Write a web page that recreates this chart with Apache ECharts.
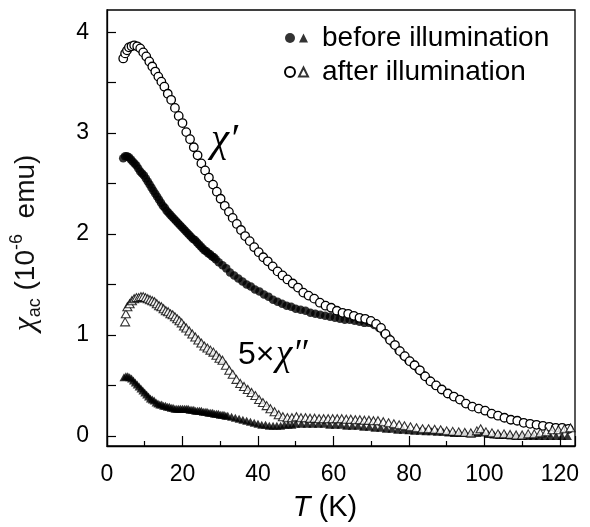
<!DOCTYPE html>
<html>
<head>
<meta charset="utf-8">
<script src="https://cdn.jsdelivr.net/npm/echarts@6/dist/echarts.min.js"></script>
<style>html,body{margin:0;padding:0;background:#fff}#c{width:590px;height:527px}</style>
</head>
<body>
<div id="c"></div>
<script>
// chi' after illumination (open circles)
const tAfter1 = [4.3,4.8,5.3,5.8,6.5,7.2,8.0,8.8,9.6,10.4,11.2,12.0,12.8,13.6,14.4,15.2,16.1,17.0,18.0,19.0,20.0,21.0,22.0,23.0,24.0,25.0,26.0,27.0,28.1,29.1,30.1,31.2,32.3,33.3,34.4,35.5,36.6,37.8,39.0,40.2,41.4,42.6,43.9,45.2,46.5,47.8,49.2,50.6,52.0,53.4,54.9,56.4,57.9,59.4,60.9,62.4,63.9,65.4,66.9,68.4,69.9,71.3,72.6,73.8,75.0,76.3,77.6,78.9,80.2,81.5,82.9,84.3,85.7,87.2,88.7,90.3,91.9,93.5,95.1,96.8,98.5,100.2,101.9,103.6,105.3,107.0,108.7,110.4,112.1,113.8,115.5,117.2,118.9,120.6,122.3];
const vAfter1 = [3.74,3.79,3.82,3.85,3.86,3.87,3.86,3.84,3.80,3.76,3.71,3.66,3.61,3.56,3.51,3.46,3.39,3.33,3.25,3.17,3.10,3.01,2.94,2.86,2.78,2.70,2.63,2.56,2.49,2.42,2.35,2.28,2.22,2.16,2.10,2.04,1.98,1.93,1.87,1.82,1.77,1.73,1.68,1.63,1.59,1.55,1.51,1.47,1.42,1.39,1.36,1.32,1.29,1.27,1.24,1.22,1.21,1.19,1.17,1.16,1.14,1.11,1.07,1.01,0.95,0.90,0.84,0.79,0.74,0.70,0.65,0.59,0.54,0.50,0.46,0.42,0.39,0.36,0.32,0.29,0.27,0.25,0.22,0.20,0.18,0.16,0.15,0.13,0.12,0.11,0.10,0.09,0.08,0.08,0.07];

// chi' before illumination (filled circles)
const tBefore1 = [4.3,4.8,5.3,5.8,6.3,6.8,7.3,7.8,8.3,8.8,9.3,9.8,10.3,10.8,11.3,11.8,12.3,12.8,13.3,13.8,14.3,14.8,15.3,15.8,16.3,16.8,17.3,17.8,18.3,18.8,19.3,19.8,20.3,20.8,21.3,21.8,22.3,22.8,23.3,23.8,24.3,24.8,25.3,25.8,26.3,26.8,27.3,27.8,28.3,28.8,29.6,30.6,31.6,32.6,33.7,34.8,35.9,37.0,38.1,39.2,40.4,41.6,42.8,44.0,45.2,46.4,47.6,48.8,50.0,51.3,52.6,53.9,55.2,56.5,57.8,59.1,60.4,61.7,63.0,64.3,65.6,66.9,68.2,69.5,70.8,72.1,73.4,74.6,75.9,77.2,78.5,79.8,81.1,82.5,84.0,85.5,87.0,88.6,90.2,91.8,93.4,95.0,96.7,98.4,100.1,101.8,103.5,105.2,106.9,108.6,110.3,112.0,113.7,115.4,117.1,118.8,120.5,122.2];
const vBefore1 = [2.75,2.77,2.77,2.76,2.74,2.72,2.70,2.68,2.65,2.62,2.60,2.58,2.55,2.52,2.49,2.46,2.43,2.40,2.37,2.34,2.31,2.28,2.26,2.23,2.21,2.19,2.17,2.15,2.13,2.11,2.09,2.07,2.05,2.03,2.01,1.99,1.97,1.95,1.94,1.92,1.90,1.88,1.86,1.84,1.83,1.81,1.80,1.78,1.77,1.75,1.72,1.69,1.66,1.62,1.59,1.56,1.53,1.50,1.48,1.45,1.43,1.40,1.38,1.35,1.33,1.31,1.29,1.28,1.26,1.25,1.24,1.22,1.21,1.20,1.19,1.18,1.17,1.16,1.15,1.15,1.14,1.13,1.12,1.12,1.10,1.07,1.02,0.97,0.91,0.85,0.80,0.75,0.71,0.66,0.60,0.55,0.50,0.46,0.42,0.39,0.36,0.32,0.29,0.27,0.25,0.22,0.20,0.18,0.16,0.15,0.13,0.12,0.11,0.10,0.09,0.08,0.08,0.07];

// 5 x chi'' after illumination (open triangles)
const tAfter2 = [4.8,5.0,5.4,6.0,6.6,7.2,7.8,8.4,9.0,9.6,10.2,10.8,11.4,12.0,12.6,13.2,13.8,14.4,15.0,15.6,16.2,16.8,17.4,18.0,18.6,19.2,19.8,20.4,21.0,21.8,22.6,23.4,24.2,25.0,25.8,26.6,27.4,28.2,29.0,29.8,30.6,31.5,32.4,33.3,34.3,35.3,36.3,37.3,38.3,39.3,40.3,41.3,42.3,43.3,44.4,45.5,46.6,47.8,49.0,50.2,51.4,52.6,53.8,55.0,56.2,57.4,58.6,59.8,61.0,62.2,63.4,64.6,65.8,67.0,68.2,69.4,70.6,71.8,73.2,74.6,76.0,77.4,78.8,80.4,82.0,83.6,85.2,86.8,88.4,90.0,91.6,93.2,94.8,96.4,98.0,99.0,100.4,102.0,103.6,105.2,106.8,108.4,110.0,111.6,113.2,114.8,116.4,118.0,119.6,121.2,122.8];
const vAfter2 = [1.13,1.21,1.28,1.31,1.34,1.36,1.37,1.37,1.38,1.38,1.37,1.36,1.35,1.34,1.33,1.31,1.29,1.28,1.26,1.24,1.23,1.21,1.20,1.18,1.16,1.14,1.12,1.09,1.07,1.04,1.01,0.98,0.95,0.92,0.89,0.87,0.85,0.83,0.80,0.77,0.75,0.70,0.65,0.61,0.56,0.52,0.49,0.46,0.43,0.40,0.36,0.33,0.30,0.27,0.24,0.21,0.19,0.18,0.18,0.19,0.18,0.18,0.175,0.175,0.17,0.17,0.17,0.17,0.17,0.17,0.165,0.165,0.16,0.16,0.155,0.155,0.15,0.15,0.14,0.13,0.12,0.11,0.10,0.09,0.08,0.07,0.07,0.065,0.06,0.05,0.045,0.04,0.035,0.03,0.05,0.07,0.04,0.03,0.02,0.02,0.015,0.01,0.01,0.02,0.02,0.03,0.04,0.06,0.06,0.07,0.08];

// 5 x chi'' before illumination (filled triangles)
const tBefore2 = [4.5,5.0,5.5,6.0,6.5,7.0,7.5,8.0,8.5,9.0,9.5,10.0,10.5,11.0,11.5,12.0,12.5,13.0,13.5,14.0,14.5,15.0,15.5,16.0,16.5,17.0,17.5,18.0,18.5,19.0,19.5,20.0,20.5,21.0,21.5,22.0,22.5,23.0,23.5,24.0,24.5,25.0,25.5,26.0,26.5,27.0,27.5,28.0,28.5,29.0,29.5,30.0,30.5,31.0,31.5,32.0,33.0,34.0,35.0,36.0,37.0,38.0,39.0,40.0,41.0,42.0,43.0,44.0,45.0,46.0,47.0,48.0,49.0,50.0,51.5,53.0,54.5,56.0,57.5,59.0,60.5,62.0,63.5,65.0,66.5,68.0,69.5,71.0,72.5,74.0,75.5,77.0,78.5,80.0,81.5,83.0,84.5,86.0,87.5,89.0,90.5,92.0,93.5,95.0,96.5,98.0,99.5,101.0,102.5,104.0,105.5,107.0,108.5,110.0,111.5,113.0,114.5,116.0,117.5,119.0,120.5,122.0];
const vBefore2 = [0.58,0.59,0.59,0.58,0.57,0.55,0.53,0.51,0.49,0.47,0.45,0.43,0.41,0.39,0.37,0.36,0.35,0.33,0.32,0.31,0.31,0.30,0.30,0.29,0.29,0.28,0.28,0.27,0.27,0.27,0.27,0.27,0.27,0.27,0.27,0.26,0.26,0.26,0.25,0.25,0.25,0.25,0.24,0.24,0.24,0.23,0.23,0.23,0.22,0.22,0.22,0.21,0.21,0.21,0.20,0.20,0.19,0.18,0.17,0.16,0.15,0.14,0.13,0.12,0.11,0.11,0.10,0.10,0.10,0.10,0.11,0.11,0.11,0.12,0.12,0.12,0.12,0.12,0.12,0.11,0.11,0.11,0.10,0.10,0.10,0.09,0.09,0.08,0.08,0.07,0.07,0.06,0.06,0.055,0.05,0.05,0.045,0.045,0.04,0.04,0.035,0.03,0.03,0.03,0.025,0.03,0.04,0.02,0.015,0.01,0.01,0.005,0,0,0,0,0,0,0,0,0,0];

const xTicks = [0, 20, 40, 60, 80, 100, 120];
const yTickLabels = [0, 1, 2, 3, 4];
const yTickMarks = [0, 0.5, 1, 1.5, 2, 2.5, 3, 3.5, 4];

const pairs = (t, v) => t.map((x, i) => [x, v[i]]);

const SANS = '"Liberation Sans", Arial, Helvetica, sans-serif';
const SERIF = '"Liberation Serif", "Times New Roman", serif';

const chart = echarts.init(document.getElementById('c'), null, {renderer: 'canvas'});
chart.setOption({
  animation: false,
  backgroundColor: '#fff',
  grid: {left: 107, right: 15, top: 10, bottom: 81, show: true, borderColor: '#000', borderWidth: 1.3, backgroundColor: 'transparent'},
  xAxis: {
    type: 'value', min: 0, max: 124, interval: 20,
    axisLine: {show: true, onZero: false, lineStyle: {color: '#000', width: 1.3}},
    axisTick: {show: true, inside: true, length: 10, lineStyle: {color: '#000', width: 1.2}},
    minorTick: {show: true, splitNumber: 2, length: 5, lineStyle: {color: '#000', width: 1.2}},
    splitLine: {show: false},
    axisLabel: {
      margin: 17, fontSize: 23, color: '#000', fontFamily: SANS, showMaxLabel: false,
      formatter: v => (xTicks.indexOf(v) >= 0 ? String(v) : '')
    },
    name: '{t|T} (K)', nameLocation: 'middle', nameGap: 47,
    nameTextStyle: {fontSize: 29, color: '#000', fontFamily: SANS, padding: [0, 32, 0, 0],
      rich: {t: {fontSize: 29, fontStyle: 'italic', fontFamily: SANS, color: '#000'}}}
  },
  yAxis: {
    type: 'value', min: -0.1, max: 4.22,
    axisLine: {show: true, onZero: false, lineStyle: {color: '#000', width: 1.3}},
    axisTick: {show: true, inside: true, length: 9, customValues: yTickMarks, lineStyle: {color: '#000', width: 1.2}},
    minorTick: {show: false},
    splitLine: {show: false},
    axisLabel: {
      margin: 18, fontSize: 23, color: '#000', fontFamily: SANS, customValues: yTickLabels,
      formatter: v => String(Math.round(v))
    },
    name: '{chi|χ}{sub|ac} (10{sup|-6}  emu)', nameLocation: 'middle', nameGap: 63, nameRotate: 90,
    nameTextStyle: {fontSize: 28, color: '#111', fontFamily: SANS, lineHeight: 36, padding: [0, 30, 0, 0],
      rich: {
        chi: {fontSize: 32, fontStyle: 'italic', fontFamily: SERIF, color: '#111', lineHeight: 36},
        sub: {fontSize: 18, fontFamily: SANS, color: '#111', verticalAlign: 'bottom', lineHeight: 18},
        sup: {fontSize: 18, fontFamily: SANS, color: '#111', verticalAlign: 'top', lineHeight: 18}
      }}
  },
  legend: [
    {
      data: [{name: 'χ′ before illumination', icon: 'circle'}, {name: 'χ′ after illumination', icon: 'circle'}],
      orient: 'vertical', left: 284, top: 23, padding: 0, itemGap: 4, itemWidth: 10, itemHeight: 10,
      selectedMode: false, formatter: () => ' ',
      textStyle: {fontSize: 28, lineHeight: 30, fontFamily: SANS, color: '#000'}
    },
    {
      data: [{name: '5×χ″ before illumination', icon: 'triangle'}, {name: '5×χ″ after illumination', icon: 'triangle'}],
      orient: 'vertical', left: 298, top: 23, padding: 0, itemGap: 4, itemWidth: 9, itemHeight: 9,
      selectedMode: false, formatter: n => n.replace('5×χ″ ', ''),
      textStyle: {fontSize: 28, lineHeight: 30, fontFamily: SANS, color: '#000', padding: [0, 0, 0, 9]}
    }
  ],
  graphic: [
    {type: 'text', left: 211, top: 120, z: 100,
     style: {text: 'χ′', fontSize: 41, fontStyle: 'italic', fontFamily: SERIF, fill: '#000'}},
    {type: 'text', left: 238, top: 339, z: 100,
     style: {text: '5×', fontSize: 32, fontFamily: SANS, fill: '#000'}},
    {type: 'text', left: 276, top: 337, z: 100,
     style: {text: 'χ″', fontSize: 37, fontStyle: 'italic', fontFamily: SERIF, fill: '#000'}}
  ],
  series: [
    {
      name: 'χ′ before illumination', type: 'scatter', data: pairs(tBefore1, vBefore1),
      symbol: 'circle', symbolSize: 8.5, z: 2,
      itemStyle: {color: '#000', borderColor: '#000', borderWidth: 0}
    },
    {
      name: 'χ′ after illumination', type: 'line', data: pairs(tAfter1, vAfter1),
      symbol: 'circle', symbolSize: 8.5, showAllSymbol: true, z: 3,
      lineStyle: {color: '#000', width: 0.9},
      itemStyle: {color: '#fff', borderColor: '#000', borderWidth: 1.3}
    },
    {
      name: '5×χ″ before illumination', type: 'scatter', data: pairs(tBefore2, vBefore2),
      symbol: 'triangle', symbolSize: [9, 8], z: 4,
      itemStyle: {color: '#000', borderColor: '#000', borderWidth: 0}
    },
    {
      name: '5×χ″ after illumination', type: 'scatter', data: pairs(tAfter2, vAfter2),
      symbol: 'triangle', symbolSize: [9, 8], z: 5,
      itemStyle: {color: '#fff', borderColor: '#000', borderWidth: 1.1}
    }
  ]
});
</script>
</body>
</html>
